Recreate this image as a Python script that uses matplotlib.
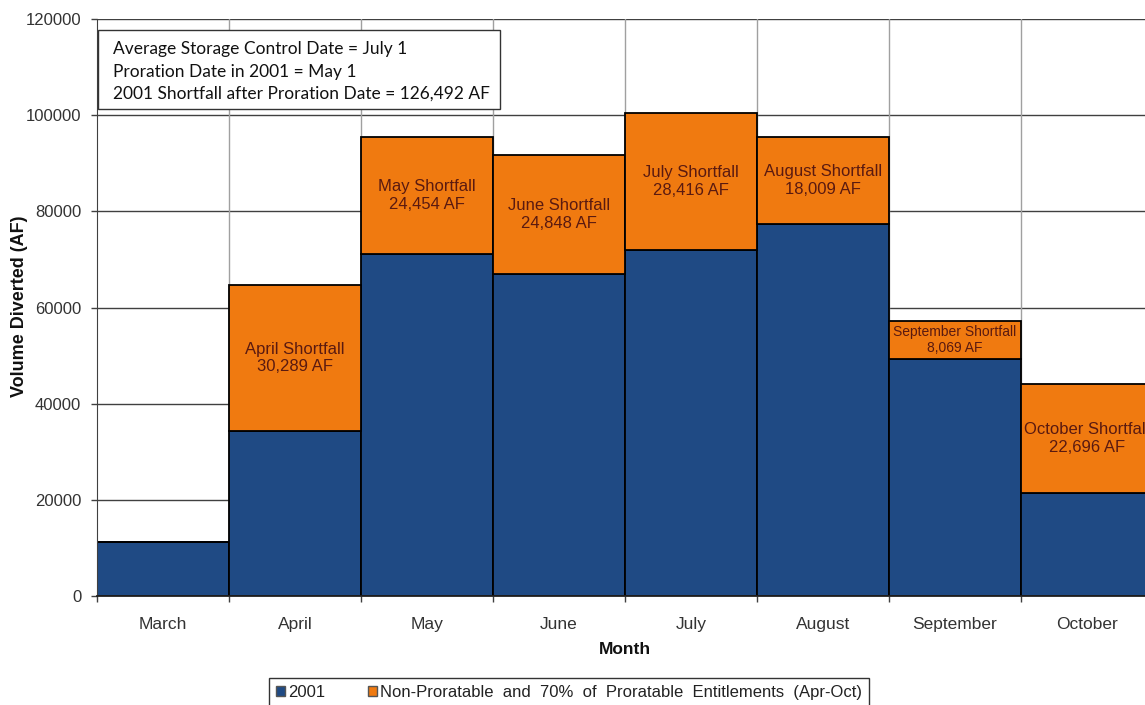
import matplotlib
matplotlib.use("Agg")
import matplotlib.pyplot as plt
from matplotlib.patches import Patch, Rectangle
import numpy as np

months = ["March", "April", "May", "June", "July", "August", "September", "October"]
diverted_2001 = [11200, 34400, 71100, 66900, 72000, 77400, 49200, 21400]
shortfall = [0, 30289, 24454, 24848, 28416, 18009, 8069, 22696]
shortfall_labels = ["", "April Shortfall", "May Shortfall", "June Shortfall", "July Shortfall",
                    "August Shortfall", "September Shortfall", "October Shortfall"]
y_ticks = [0, 20000, 40000, 60000, 80000, 100000, 120000]
note_lines = ["Average Storage Control Date = July 1",
              "Proration Date in 2001 = May 1",
              "2001 Shortfall after Proration Date = 126,492 AF"]

BLUE = "#1F4A84"
ORANGE = "#F07A10"
LABEL_COLOR = "#5a1a10"
TICK_COLOR = "#333333"

plt.rcParams["font.family"] = ["Liberation Sans", "DejaVu Sans"]

W, H = 1145, 705
fig = plt.figure(figsize=(W / 100, H / 100), dpi=100)
ax = fig.add_axes([97 / W, 1 - 596 / H, (1153 - 97) / W, (596 - 19) / H])


def px(x, y):
    """Figure fraction from pixel position measured from the top-left corner."""
    return x / W, 1 - y / H


x = np.arange(len(months))
ax.bar(x, diverted_2001, width=1.0, color=BLUE, edgecolor="black", linewidth=1.3, zorder=2)
ax.bar(x, shortfall, width=1.0, bottom=diverted_2001, color=ORANGE, edgecolor="black",
       linewidth=1.3, zorder=2)

for i, (b, s, lab) in enumerate(zip(diverted_2001, shortfall, shortfall_labels)):
    if s <= 0:
        continue
    small = lab.startswith("September")
    ax.text(i, b + s / 2, f"{lab}\n{s:,} AF", ha="center", va="center",
            fontsize=10 if small else 12, color=LABEL_COLOR,
            linespacing=1.1 if small else 1.2, zorder=3, clip_on=False)

ax.set_xlim(-0.5, len(months) - 0.5)
ax.set_ylim(0, 120000)

# horizontal grid
for yv in y_ticks[1:]:
    ax.axhline(yv, color="#404040", linewidth=1.0, zorder=1)
# category separators
for xv in np.arange(0.5, len(months) - 0.5, 1.0):
    ax.axvline(xv, color="#a0a0a0", linewidth=1.0, zorder=1)

ax.set_yticks(y_ticks)
ax.set_yticklabels([str(v) for v in y_ticks], fontsize=12, color=TICK_COLOR)
ax.tick_params(axis="y", direction="out", length=4.3, width=1, pad=7, color="#404040")

ax.set_xticks(np.arange(-0.5, len(months), 1.0))
ax.set_xticklabels([])
ax.set_xticks(x, minor=True)
ax.set_xticklabels(months, minor=True, fontsize=12.5, color=TICK_COLOR)
ax.tick_params(axis="x", which="major", direction="out", length=4, width=1, color="#404040")
ax.tick_params(axis="x", which="minor", length=0, pad=15)

for side in ["top", "right"]:
    ax.spines[side].set_visible(False)
ax.spines["left"].set_color("#404040")
ax.spines["bottom"].set_color("#202020")
ax.spines["bottom"].set_linewidth(1.3)

fig.text(*px(20, 306), "Volume Diverted (AF)", rotation=90, ha="center", va="center",
         fontsize=13, fontweight="bold", color="#111111")
fig.text(*px(625, 650), "Month", ha="center", va="center", fontsize=12.5,
         fontweight="bold", color="#111111")

# note box
bx0, by0 = px(98, 109)
bx1, by1 = px(500, 30)
fig.patches.append(Rectangle((bx0, by0), bx1 - bx0, by1 - by0, transform=fig.transFigure,
                             facecolor="white", edgecolor="#333333", linewidth=1.0,
                             zorder=5))
for line, yp in zip(note_lines, [49, 72, 94]):
    fig.text(*px(113, yp), line, ha="left", va="center", fontsize=12.5,
             family=["Lato", "DejaVu Sans"], color="#111111", zorder=6)

handles = [Patch(facecolor=BLUE, edgecolor="#555555", label="2001"),
           Patch(facecolor=ORANGE, edgecolor="#555555",
                 label="Non-Proratable  and  70%  of  Proratable  Entitlements  (Apr-Oct)")]
leg = fig.legend(handles=handles, loc="upper center", bbox_to_anchor=px(569, 678),
                 ncol=2, fontsize=12, frameon=True, fancybox=False, edgecolor="black",
                 handlelength=0.55, handleheight=0.55, handletextpad=0.15, columnspacing=2.6,
                 borderpad=0.4, borderaxespad=0)
leg.get_frame().set_linewidth(1.0)
for t in leg.get_texts():
    t.set_color("#222222")

fig.savefig("out.png", dpi=100)
